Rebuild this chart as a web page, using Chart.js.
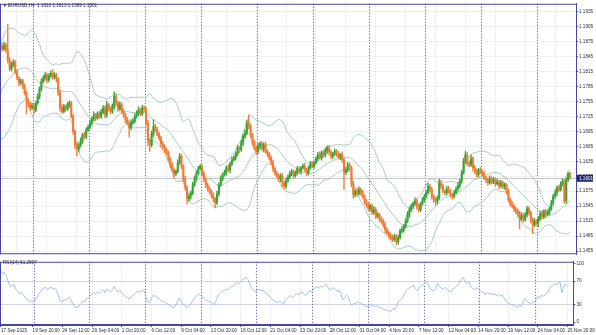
<!DOCTYPE html>
<html>
<head>
<meta charset="utf-8">
<script src="https://cdn.jsdelivr.net/npm/chart.js@4.4.1/dist/chart.umd.min.js"></script>
<style>
  html, body { margin: 0; padding: 0; background: #fff; }
  #wrap { position: relative; width: 596px; height: 335px; overflow: hidden; }
  #priceChart { position: absolute; left: 0; top: 0; }
  #rsiChart { position: absolute; left: 0; top: 258px; }
</style>
</head>
<body>
<div id="wrap">
  <canvas id="priceChart" width="596" height="258"></canvas>
  <canvas id="rsiChart" width="596" height="77"></canvas>
</div>
<script>
// EURUSD H4, 17 Sep 2025 00:00 .. 26 Nov 2025 20:00, one line per trading day (6 bars)
const firstOpen = 1.1862;
const closes = [
  1.1866, 1.1860, 1.1868, 1.1858, 1.1838, 1.1820, // 17 Sep
  1.1828, 1.1834, 1.1815, 1.1802, 1.1792, 1.1796,
  1.1785, 1.1772, 1.1758, 1.1750, 1.1742, 1.1746,
  1.1738, 1.1752, 1.1765, 1.1780, 1.1795, 1.1802, // 22 Sep
  1.1808, 1.1798, 1.1806, 1.1812, 1.1804, 1.1808,
  1.1800, 1.1772, 1.1742, 1.1735, 1.1745, 1.1740,
  1.1748, 1.1752, 1.1725, 1.1695, 1.1668, 1.1660,
  1.1668, 1.1676, 1.1688, 1.1684, 1.1698, 1.1703,
  1.1712, 1.1720, 1.1728, 1.1722, 1.1730, 1.1725, // 29 Sep
  1.1733, 1.1742, 1.1728, 1.1748, 1.1740, 1.1735,
  1.1745, 1.1765, 1.1752, 1.1740, 1.1748, 1.1735,
  1.1728, 1.1718, 1.1712, 1.1702, 1.1712, 1.1716,
  1.1725, 1.1732, 1.1738, 1.1730, 1.1742, 1.1740,
  1.1712, 1.1675, 1.1668, 1.1690, 1.1705, 1.1698, // 6 Oct
  1.1690, 1.1682, 1.1670, 1.1664, 1.1658, 1.1652,
  1.1640, 1.1628, 1.1618, 1.1610, 1.1615, 1.1632,
  1.1645, 1.1625, 1.1600, 1.1582, 1.1560, 1.1565,
  1.1572, 1.1588, 1.1600, 1.1612, 1.1620, 1.1625,
  1.1610, 1.1598, 1.1588, 1.1580, 1.1574, 1.1568, // 13 Oct
  1.1560, 1.1552, 1.1570, 1.1588, 1.1600, 1.1608,
  1.1612, 1.1622, 1.1618, 1.1630, 1.1638, 1.1642,
  1.1650, 1.1662, 1.1658, 1.1672, 1.1685, 1.1692,
  1.1712, 1.1705, 1.1688, 1.1672, 1.1662, 1.1655,
  1.1665, 1.1670, 1.1660, 1.1668, 1.1655, 1.1650, // 20 Oct
  1.1642, 1.1632, 1.1620, 1.1612, 1.1606, 1.1600,
  1.1606, 1.1592, 1.1585, 1.1596, 1.1604, 1.1610,
  1.1614, 1.1606, 1.1612, 1.1620, 1.1615, 1.1622,
  1.1626, 1.1618, 1.1612, 1.1622, 1.1630, 1.1626,
  1.1632, 1.1640, 1.1648, 1.1642, 1.1652, 1.1648, // 27 Oct
  1.1656, 1.1662, 1.1654, 1.1645, 1.1650, 1.1655,
  1.1650, 1.1644, 1.1648, 1.1638, 1.1612, 1.1618,
  1.1628, 1.1622, 1.1590, 1.1568, 1.1575, 1.1570,
  1.1578, 1.1572, 1.1565, 1.1555, 1.1548, 1.1540,
  1.1545, 1.1532, 1.1538, 1.1525, 1.1528, 1.1520, // 3 Nov
  1.1515, 1.1508, 1.1498, 1.1492, 1.1486, 1.1482,
  1.1478, 1.1485, 1.1474, 1.1482, 1.1495, 1.1498,
  1.1505, 1.1515, 1.1528, 1.1538, 1.1545, 1.1550,
  1.1556, 1.1545, 1.1538, 1.1550, 1.1558, 1.1565,
  1.1572, 1.1585, 1.1578, 1.1565, 1.1558, 1.1555, // 10 Nov
  1.1562, 1.1592, 1.1585, 1.1575, 1.1572, 1.1580,
  1.1575, 1.1568, 1.1565, 1.1572, 1.1580, 1.1586,
  1.1595, 1.1612, 1.1635, 1.1648, 1.1632, 1.1628,
  1.1640, 1.1622, 1.1615, 1.1608, 1.1618, 1.1614,
  1.1610, 1.1602, 1.1598, 1.1592, 1.1600, 1.1594, // 17 Nov
  1.1598, 1.1590, 1.1594, 1.1586, 1.1592, 1.1584,
  1.1588, 1.1575, 1.1558, 1.1550, 1.1545, 1.1540,
  1.1535, 1.1530, 1.1520, 1.1526, 1.1518, 1.1528,
  1.1540, 1.1532, 1.1518, 1.1508, 1.1515, 1.1512,
  1.1520, 1.1530, 1.1524, 1.1535, 1.1528, 1.1532, // 24 Nov
  1.1540, 1.1552, 1.1565, 1.1572, 1.1582, 1.1578,
  1.1590, 1.1595, 1.1556, 1.1598, 1.1610, 1.1601
];
// wick lengths in pips above / below the candle body
const upperWick = [
  4,5,6,4,52,5,  6,5,3,4,3,4,  3,5,4,3,4,5,
  4,3,5,4,6,5,  6,4,5,4,7,5,  4,3,5,6,4,3,  5,4,3,4,3,6,  4,6,3,5,4,5,
  5,4,6,3,4,5,  6,5,4,7,3,4,  5,9,4,3,6,4,  4,3,5,4,6,5,  5,4,6,3,5,4,
  3,5,4,6,13,4,  5,4,3,5,4,3,  4,3,5,4,3,6,  6,4,3,5,4,6,  4,5,6,4,5,4,
  3,5,4,3,4,5,  4,3,5,4,6,4,  5,4,6,3,5,4,  4,5,3,5,4,6,  5,16,4,3,5,4,
  6,4,5,4,5,3,  3,4,5,4,3,4,  4,5,3,6,4,5,  5,3,4,5,4,3,  4,5,3,4,5,4,
  3,4,5,6,4,5,  6,4,5,4,3,5,  4,5,3,6,4,5,  5,4,3,5,4,6,  6,4,5,3,4,5,
  4,5,6,4,5,3,  3,4,5,4,3,5,  5,4,3,5,4,6,  4,5,6,4,5,4,  6,4,5,3,5,4,
  5,6,4,5,3,4,  4,7,5,4,3,5,  5,4,3,5,4,6,  4,5,6,7,5,4,  8,4,5,4,3,5,
  4,5,3,4,6,4,  5,4,6,3,5,4,  4,3,5,4,5,3,  3,4,5,6,4,5,  5,4,3,4,5,3,
  4,5,6,3,4,5,  3,5,4,6,4,5,  4,5,3,4,3,3
];
const lowerWick = [
  3,4,3,5,6,4,  4,3,5,4,6,3,  5,4,28,6,5,3,
  8,4,3,5,4,3,  5,6,4,3,5,4,  6,5,7,4,3,5,  3,5,4,6,8,14,  6,4,5,3,4,3,
  3,5,4,6,3,4,  4,3,6,5,4,5,  4,5,6,5,3,4,  5,6,4,18,4,3,  4,3,5,4,3,5,
  6,8,13,4,5,3,  4,5,6,4,5,4,  5,6,4,8,4,3,  3,5,6,4,11,5,  6,4,3,5,4,3,
  5,4,6,5,4,6,  6,10,4,5,3,4,  3,5,4,6,4,3,  5,4,6,3,5,4,  4,5,6,5,4,6,
  4,5,3,6,4,5,  5,4,6,5,4,6,  6,8,5,4,3,4,  4,5,3,4,5,6,  3,4,6,5,3,4,
  5,3,4,3,5,4,  4,5,6,4,5,3,  5,4,6,5,34,4,  4,5,6,7,4,5,  3,5,4,6,5,4,
  5,4,3,5,4,6,  4,5,6,4,5,4,  4,3,6,5,3,4,  5,4,3,6,4,5,  4,6,5,4,3,5,
  4,3,5,6,5,8,  6,4,5,3,5,4,  4,5,6,4,3,5,  5,4,3,5,6,4,  4,6,5,4,5,4,
  5,4,6,5,3,5,  4,5,3,6,4,5,  5,6,4,5,4,6,  5,6,20,4,5,3,  4,5,6,18,4,5,
  8,4,5,4,6,3,  4,3,5,4,6,4,  3,4,6,5,4,2
];
// closes of the bars before 17 Sep, only used to start the indicators
const warmupCloses = [
  1.1698, 1.1695, 1.1702, 1.1690, 1.1722, 1.1730,
  1.1735, 1.1728, 1.1738, 1.1742, 1.1730, 1.1733,
  1.1740, 1.1745, 1.1750, 1.1762, 1.1768, 1.1762,
  1.1770, 1.1785, 1.1800, 1.1830, 1.1862, 1.1866
];

const timeLabels = ['17 Sep 2025', '19 Sep 20:00', '24 Sep 12:00', '29 Sep 04:00', '1 Oct 20:00',
  '6 Oct 12:00', '9 Oct 04:00', '13 Oct 20:00', '16 Oct 12:00', '21 Oct 04:00', '23 Oct 20:00',
  '28 Oct 12:00', '31 Oct 04:00', '4 Nov 20:00', '7 Nov 12:00', '12 Nov 04:00', '14 Nov 20:00',
  '19 Nov 12:00', '24 Nov 04:00', '26 Nov 20:00'];
const timeLabelIdx = [0, 17, 33, 49, 65, 81, 97, 113, 129, 145, 161, 177, 193, 209, 225, 241, 257, 273, 289, 305];
const weekStartIdx = [18, 48, 78, 108, 138, 168, 198, 228, 258, 288];
const priceTicks = [1.1455, 1.1485, 1.1515, 1.1545, 1.1575, 1.1605, 1.1635, 1.1665, 1.1695,
  1.1725, 1.1755, 1.1785, 1.1815, 1.1845, 1.1875, 1.1905, 1.1935];
const rsiTicks = [0, 30, 70, 100];
const rsiLevels = [30, 70];
const bidPrice = 1.1601;
const titleText = 'EURUSD,H4  1.1610 1.1613 1.1599 1.1601';
const rsiTitle = 'RSI(14) 61.2697';

// colours
const upColor = '#36a436';
const downColor = '#f27a32';
const bandColor = '#8cc6aa';
const rsiColor = '#8ab6e4';
const gridColor = '#f0f0f4';
const frameColor = '#4646a6';
const textColor = '#2a2a3a';
const FONT = 'Liberation Sans, Arial, sans-serif';
const FONT_SIZE = 4.6;

Chart.defaults.font.family = FONT;
Chart.defaults.font.size = FONT_SIZE;

const pip = 0.0001;
const opens = closes.map((c, i) => i === 0 ? firstOpen : closes[i - 1]);
const highs = closes.map((c, i) => Math.max(opens[i], c) + upperWick[i] * pip);
const lows = closes.map((c, i) => Math.min(opens[i], c) - lowerWick[i] * pip);

function bollinger(series, period, dev) {
  const up = [], mid = [], lo = [];
  for (let i = 0; i < series.length; i++) {
    if (i < period - 1) { up.push(null); mid.push(null); lo.push(null); continue; }
    const win = series.slice(i - period + 1, i + 1);
    const m = win.reduce((a, b) => a + b, 0) / period;
    const sd = Math.sqrt(win.reduce((a, b) => a + (b - m) * (b - m), 0) / period);
    up.push(m + dev * sd); mid.push(m); lo.push(m - dev * sd);
  }
  return { up, mid, lo };
}

function rsi(series, period) {
  const out = series.map(() => null);
  let ag = 0, al = 0;
  for (let i = 1; i < series.length; i++) {
    const ch = series[i] - series[i - 1];
    const g = Math.max(ch, 0), l = Math.max(-ch, 0);
    if (i <= period) {
      ag += g / period; al += l / period;
      if (i < period) continue;
    } else {
      ag = (ag * (period - 1) + g) / period;
      al = (al * (period - 1) + l) / period;
    }
    out[i] = al === 0 ? 100 : 100 - 100 / (1 + ag / al);
  }
  return out;
}

const allCloses = warmupCloses.concat(closes);
const skip = warmupCloses.length;
const bb = bollinger(allCloses, 20, 2);
const rsiAll = rsi(allCloses, 14);

const toPoints = arr => arr.slice(skip).map((v, i) => ({ x: i, y: v }));
const bodyData = closes.map((c, i) => ({ x: i, y: [opens[i], c] }));
const wickData = closes.map((c, i) => ({ x: i, y: [lows[i], highs[i]] }));
const candleColor = ctx => closes[ctx.dataIndex] >= opens[ctx.dataIndex] ? upColor : downColor;

// horizontal layout shared by both panels
const xMin = -0.16, xMax = 308.2, axisWidth = 20;
const priceMax = 1.195069, priceMin = 1.144873;

function drawSeparators(chart) {
  const { ctx, chartArea: a, scales: { x } } = chart;
  ctx.save();
  ctx.strokeStyle = frameColor;
  ctx.lineWidth = 1;
  ctx.setLineDash([1, 2]);
  weekStartIdx.forEach(i => {
    const px = Math.round(x.getPixelForValue(i - 0.5)) + 0.5;
    ctx.beginPath(); ctx.moveTo(px, a.top); ctx.lineTo(px, a.bottom); ctx.stroke();
  });
  ctx.restore();
}

function drawFrame(chart) {
  const { ctx, chartArea: a } = chart;
  ctx.save();
  ctx.strokeStyle = frameColor;
  ctx.lineWidth = 1;
  ctx.beginPath();
  ctx.moveTo(0.5, a.top + 0.5); ctx.lineTo(a.right, a.top + 0.5);
  ctx.moveTo(0.5, a.top); ctx.lineTo(0.5, a.bottom);
  ctx.moveTo(0, a.bottom - 0.5); ctx.lineTo(a.right, a.bottom - 0.5);
  ctx.stroke();
  ctx.restore();
}

const pricePanel = {
  id: 'pricePanel',
  beforeDatasetsDraw(chart) {
    const { ctx, chartArea: a, scales: { y } } = chart;
    drawSeparators(chart);
    const py = Math.round(y.getPixelForValue(bidPrice)) + 0.5;
    ctx.save();
    ctx.strokeStyle = '#c8c8c8';
    ctx.lineWidth = 1;
    ctx.beginPath(); ctx.moveTo(a.left, py); ctx.lineTo(a.right, py); ctx.stroke();
    ctx.restore();
  },
  afterDraw(chart) {
    const { ctx, chartArea: a, scales: { y } } = chart;
    drawFrame(chart);
    ctx.save();
    ctx.font = FONT_SIZE + 'px ' + FONT;
    ctx.fillStyle = textColor;
    ctx.textBaseline = 'middle';
    ctx.fillText('\u25BC', 2.5, 6);
    ctx.fillText(titleText, 8, 6);
    // current price box on the axis
    const py = y.getPixelForValue(bidPrice);
    ctx.fillStyle = '#1e2a6a';
    ctx.fillRect(a.right + 1, py - 3.5, 16, 7);
    ctx.fillStyle = '#ffffff';
    ctx.fillText(bidPrice.toFixed(4), a.right + 3, py + 0.3);
    ctx.restore();
  }
};

const rsiPanel = {
  id: 'rsiPanel',
  beforeDatasetsDraw(chart) { drawSeparators(chart); },
  afterDraw(chart) {
    const { ctx } = chart;
    drawFrame(chart);
    ctx.save();
    ctx.font = FONT_SIZE + 'px ' + FONT;
    ctx.fillStyle = textColor;
    ctx.textBaseline = 'middle';
    ctx.fillText(rsiTitle, 3, 5);
    ctx.restore();
  }
};

const xGrid = { color: gridColor, lineWidth: 1 };

new Chart(document.getElementById('priceChart'), {
  type: 'bar',
  data: {
    datasets: [
      { label: 'body', data: bodyData, backgroundColor: candleColor, barThickness: 1.4,
        minBarLength: 0.8, grouped: false, borderWidth: 0 },
      { label: 'wick', data: wickData, backgroundColor: candleColor, barThickness: 0.7,
        grouped: false, borderWidth: 0 },
      { type: 'line', label: 'upper', data: toPoints(bb.up), borderColor: bandColor,
        borderWidth: 0.8, pointRadius: 0 },
      { type: 'line', label: 'middle', data: toPoints(bb.mid), borderColor: bandColor,
        borderWidth: 0.8, pointRadius: 0 },
      { type: 'line', label: 'lower', data: toPoints(bb.lo), borderColor: bandColor,
        borderWidth: 0.8, pointRadius: 0 }
    ]
  },
  options: {
    responsive: false,
    animation: false,
    devicePixelRatio: 1,
    layout: { padding: { top: 2, left: 0, right: 0, bottom: 0 } },
    plugins: { legend: { display: false }, tooltip: { enabled: false } },
    scales: {
      x: {
        type: 'linear', min: xMin, max: xMax, offset: false,
        afterBuildTicks: s => { s.ticks = timeLabelIdx.map(v => ({ value: v })); },
        afterFit: s => { s.height = 0; },
        ticks: { display: false },
        grid: { ...xGrid, drawTicks: false },
        border: { display: false }
      },
      y: {
        position: 'right', min: priceMin, max: priceMax,
        afterBuildTicks: s => { s.ticks = priceTicks.map(v => ({ value: v })); },
        afterFit: s => { s.width = axisWidth; },
        ticks: { callback: v => v.toFixed(4), color: textColor, padding: 1 },
        grid: { color: gridColor, tickLength: 2, tickColor: frameColor },
        border: { color: frameColor }
      }
    }
  },
  plugins: [pricePanel]
});

new Chart(document.getElementById('rsiChart'), {
  type: 'line',
  data: {
    datasets: [
      { label: 'RSI(14)', data: toPoints(rsiAll), borderColor: rsiColor, borderWidth: 0.8, pointRadius: 0 }
    ]
  },
  options: {
    responsive: false,
    animation: false,
    devicePixelRatio: 1,
    layout: { padding: { top: 2, left: 0, right: 0, bottom: 0 } },
    plugins: { legend: { display: false }, tooltip: { enabled: false } },
    scales: {
      x: {
        type: 'linear', min: xMin, max: xMax, offset: false,
        afterBuildTicks: s => { s.ticks = timeLabelIdx.map(v => ({ value: v })); },
        afterFit: s => { s.height = 10; },
        ticks: { callback: (v, i) => timeLabels[i], align: 'start', maxRotation: 0, minRotation: 0,
          autoSkip: false, padding: 1, color: textColor },
        grid: { ...xGrid, tickLength: 2, tickColor: frameColor },
        border: { color: frameColor }
      },
      y: {
        position: 'right', min: -5, max: 103.33,
        afterBuildTicks: s => { s.ticks = rsiTicks.map(v => ({ value: v })); },
        afterFit: s => { s.width = axisWidth; },
        ticks: { color: textColor, padding: 1 },
        grid: {
          color: ctx => rsiLevels.includes(ctx.tick && ctx.tick.value) ? '#d4d4dc' : 'transparent',
          tickLength: 2, tickColor: frameColor
        },
        border: { color: frameColor }
      }
    }
  },
  plugins: [rsiPanel]
});
</script>
</body>
</html>
